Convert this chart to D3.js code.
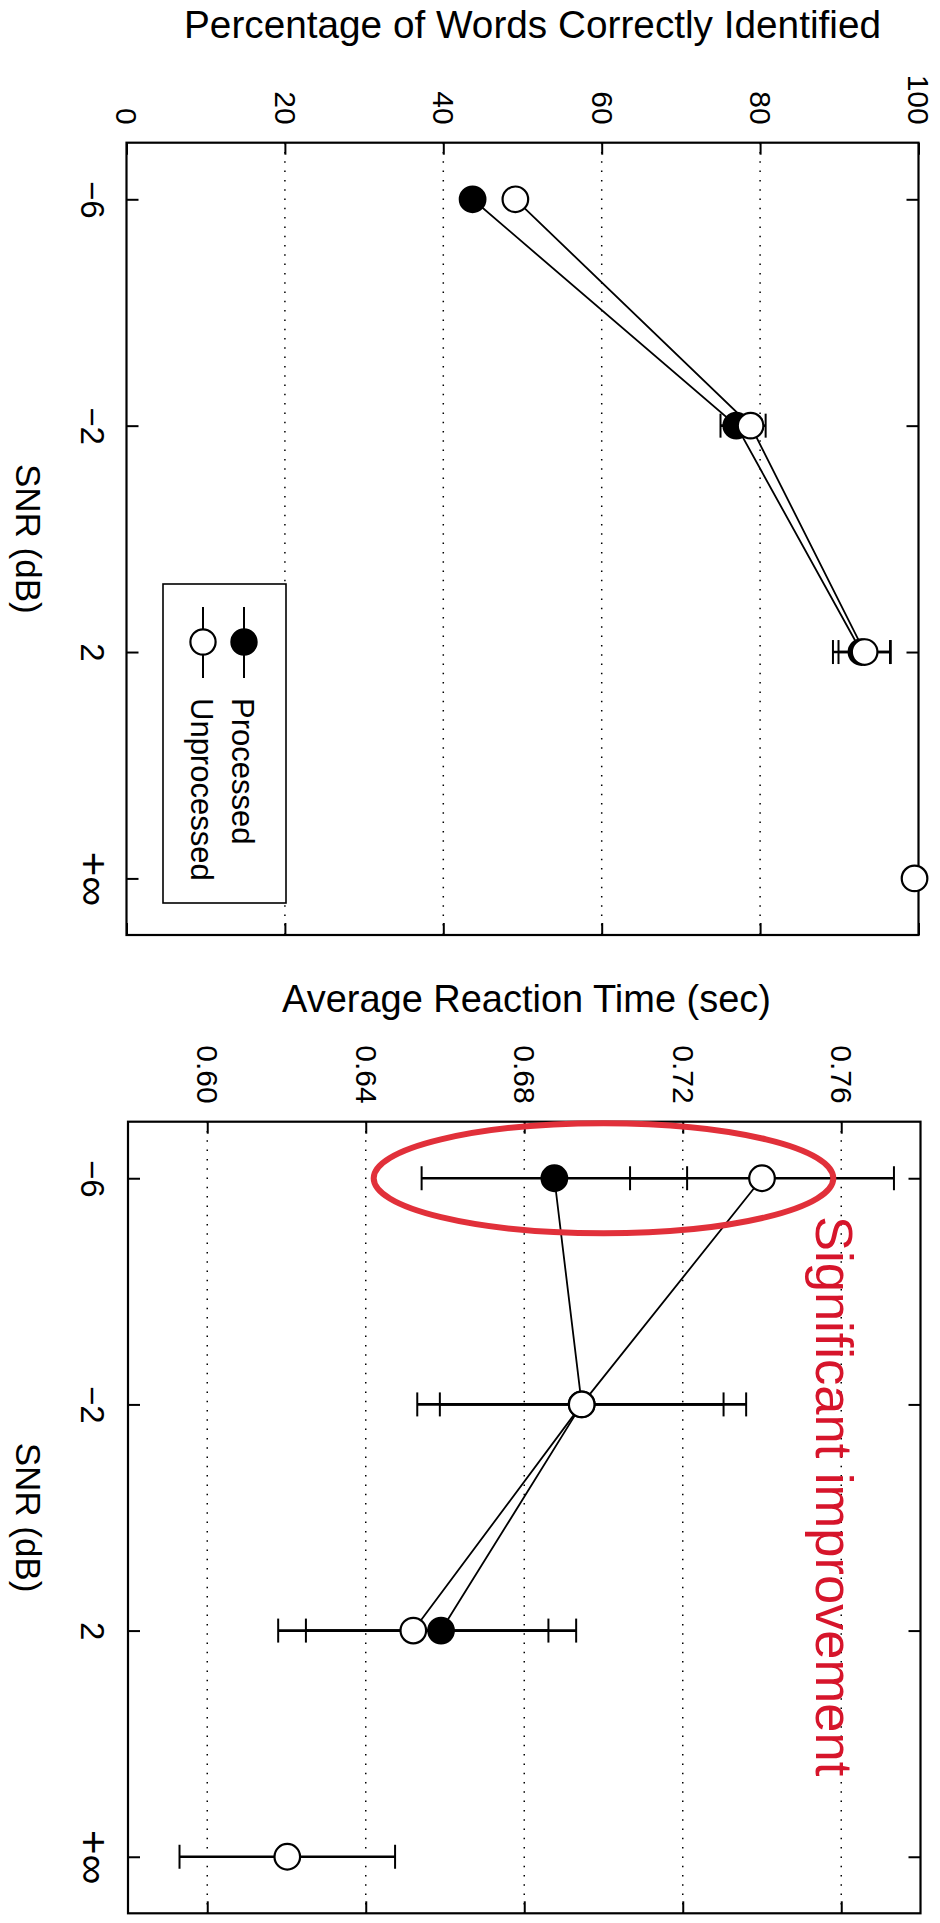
<!DOCTYPE html>
<html>
<head>
<meta charset="utf-8">
<script src="https://cdn.jsdelivr.net/npm/d3@7"></script>
<style>
  body { margin: 0; background: #fff; }
  svg { display: block; }
</style>
</head>
<body>
<svg id="chart" width="940" height="1923"></svg>
<script>
// SNR conditions (dB)
const snrLabels = ["−6", "−2", "2", "+∞"];

// Percentage of words correctly identified
const pctTicks = [0, 20, 40, 60, 80, 100];
const pctGrid = [20, 40, 60, 80];
const pctProcessed = [43.7, 77.0, 92.8, null];
const pctProcessedErr = [null, 2.0, 3.6, null];
const pctUnprocessed = [49.1, 78.8, 93.2, 99.5];
const pctUnprocessedErr = [null, 1.9, 3.3, null];

// Average reaction time (sec)
const rtTicks = [0.60, 0.64, 0.68, 0.72, 0.76];
const rtProcessed = [0.6876, 0.6945, 0.659, null];
const rtProcessedErr = [0.0335, 0.0415, 0.0341, null];
const rtUnprocessed = [0.7400, 0.6945, 0.652, 0.6202];
const rtUnprocessedErr = [0.0333, 0.0358, 0.0341, 0.0272];

const seriesNames = ["Processed", "Unprocessed"];
const seriesFill = ["#000", "#fff"];

// Highlighted region of the reaction-time panel at −6 dB
const highlightCenter = 0.700;
const highlightHalfWidth = 0.058;
const highlightText = "Significant improvement";

const FONT = "'Liberation Sans', Arial, Helvetica, sans-serif";
const svg = d3.select("#chart");
svg.append("rect").attr("width", 940).attr("height", 1923).attr("fill", "#fff");

function toPoints(vals, errs) {
  return snrLabels.map((s, i) => ({ snr: s, v: vals[i], e: errs[i] }));
}

function drawPanel(o) {
  const x = d3.scaleLinear().domain(o.domain).range([o.x0, o.x1]);
  const y = d3.scalePoint().domain(snrLabels).range([o.y0, o.y1]).padding(0.25);
  const g = svg.append("g");

  // dotted reference lines
  g.append("g").selectAll("line").data(o.grid).join("line")
    .attr("x1", d => x(d)).attr("x2", d => x(d))
    .attr("y1", o.y0).attr("y2", o.y1)
    .attr("stroke", "#000").attr("stroke-width", 1.5)
    .attr("stroke-dasharray", "1.5,7.8");

  const styleAxis = a => {
    a.select(".domain").remove();
    a.selectAll("line").attr("stroke", "#000").attr("stroke-width", 2);
  };

  // value axis (top, labelled) and its mirror (bottom)
  const top = g.append("g").attr("transform", `translate(0,${o.y0})`)
    .call(d3.axisTop(x).tickValues(o.ticks).tickFormat(o.fmt).tickSize(-12).tickSizeOuter(0));
  styleAxis(top);
  top.selectAll("text")
    .attr("x", 0).attr("y", 0).attr("dy", null)
    .attr("text-anchor", "end")
    .attr("fill", "#000")
    .style("font-family", FONT).style("font-size", "30px")
    .attr("transform", "translate(-10.7,-18) rotate(90)");

  const bottom = g.append("g").attr("transform", `translate(0,${o.y1})`)
    .call(d3.axisBottom(x).tickValues(o.ticks).tickFormat("").tickSize(-12).tickSizeOuter(0));
  styleAxis(bottom);

  // SNR axis (left, labelled) and its mirror (right)
  const left = g.append("g").attr("transform", `translate(${o.x0},0)`)
    .call(d3.axisLeft(y).tickSize(-12).tickSizeOuter(0));
  styleAxis(left);
  left.selectAll("text")
    .attr("x", 0).attr("y", 0).attr("dy", null)
    .attr("text-anchor", "middle")
    .attr("fill", "#000")
    .style("font-family", FONT)
    .style("font-size", d => d === "+∞" ? "42px" : "33px")
    .attr("transform", d => `translate(${(d === "+∞" ? 79 : 80.5) - o.x0},0) rotate(90)`);

  const right = g.append("g").attr("transform", `translate(${o.x1},0)`)
    .call(d3.axisRight(y).tickSize(-12).tickFormat("").tickSizeOuter(0));
  styleAxis(right);

  // frame
  g.append("rect")
    .attr("x", o.x0).attr("y", o.y0)
    .attr("width", o.x1 - o.x0).attr("height", o.y1 - o.y0)
    .attr("fill", "none").attr("stroke", "#000").attr("stroke-width", 2.2);

  // axis titles
  g.append("text")
    .attr("x", o.titleX).attr("y", o.titleY)
    .attr("text-anchor", "middle")
    .style("font-family", FONT).style("font-size", "38.5px")
    .attr("textLength", o.titleLen).attr("lengthAdjust", "spacingAndGlyphs")
    .text(o.title);

  g.append("text")
    .attr("text-anchor", "middle")
    .style("font-family", FONT).style("font-size", "35px")
    .attr("transform", `translate(16,${(o.y0 + o.y1) / 2}) rotate(90)`)
    .text("SNR (dB)");

  const series = o.series.map((s, k) => ({ name: seriesNames[k], fill: seriesFill[k], pts: toPoints(s.v, s.e) }));

  // connecting lines (noisy conditions only)
  const line = d3.line()
    .defined(d => d.v != null && d.snr !== "+∞")
    .x(d => x(d.v)).y(d => y(d.snr));
  series.forEach(s => {
    g.append("path").datum(s.pts)
      .attr("d", line)
      .attr("fill", "none").attr("stroke", "#000").attr("stroke-width", 1.8);
  });

  // error bars
  series.forEach(s => {
    const eb = g.append("g").selectAll("g")
      .data(s.pts.filter(d => d.v != null && d.e != null)).join("g");
    eb.append("line")
      .attr("x1", d => x(d.v - d.e)).attr("x2", d => x(d.v + d.e))
      .attr("y1", d => y(d.snr)).attr("y2", d => y(d.snr))
      .attr("stroke", "#000").attr("stroke-width", 2.6);
    [-1, 1].forEach(sgn => {
      eb.append("line")
        .attr("x1", d => x(d.v + sgn * d.e)).attr("x2", d => x(d.v + sgn * d.e))
        .attr("y1", d => y(d.snr) - 12).attr("y2", d => y(d.snr) + 12)
        .attr("stroke", "#000").attr("stroke-width", 2);
    });
  });

  // markers
  series.forEach(s => {
    g.append("g").selectAll("circle")
      .data(s.pts.filter(d => d.v != null)).join("circle")
      .attr("cx", d => x(d.v)).attr("cy", d => y(d.snr))
      .attr("r", 12.8)
      .attr("fill", s.fill).attr("stroke", "#000").attr("stroke-width", 2.2);
  });

  return { x, y, g };
}

// Panel 1: word identification
const p1 = drawPanel({
  domain: [0, 100], ticks: pctTicks, grid: pctGrid, fmt: d3.format("d"),
  x0: 126.5, x1: 918.5, y0: 142.7, y1: 935,
  title: "Percentage of Words Correctly Identified", titleX: 532.5, titleY: 38, titleLen: 697,
  series: [
    { v: pctProcessed, e: pctProcessedErr },
    { v: pctUnprocessed, e: pctUnprocessedErr }
  ]
});

// legend
const lg = p1.g.append("g");
lg.append("rect")
  .attr("x", 163).attr("y", 584).attr("width", 123).attr("height", 319)
  .attr("fill", "#fff").attr("stroke", "#000").attr("stroke-width", 1.6);
const legendCols = [244, 203];
seriesNames.forEach((name, k) => {
  const cx = legendCols[k];
  lg.append("line")
    .attr("x1", cx).attr("x2", cx).attr("y1", 607).attr("y2", 678)
    .attr("stroke", "#000").attr("stroke-width", 2);
  lg.append("circle")
    .attr("cx", cx).attr("cy", 642).attr("r", 12.6)
    .attr("fill", seriesFill[k]).attr("stroke", "#000").attr("stroke-width", 2.2);
  lg.append("text")
    .style("font-family", FONT).style("font-size", "31px")
    .attr("transform", `translate(${cx - 12},698) rotate(90)`)
    .text(name);
});

// Panel 2: reaction time
const p2 = drawPanel({
  domain: [0.58, 0.78], ticks: rtTicks, grid: rtTicks, fmt: d3.format(".2f"),
  x0: 128, x1: 920.5, y0: 1121.7, y1: 1913.3,
  title: "Average Reaction Time (sec)", titleX: 526.5, titleY: 1012, titleLen: 489,
  series: [
    { v: rtProcessed, e: rtProcessedErr },
    { v: rtUnprocessed, e: rtUnprocessedErr }
  ]
});

// highlight around the −6 dB reaction times
p2.g.append("ellipse")
  .attr("cx", p2.x(highlightCenter))
  .attr("cy", p2.y(snrLabels[0]))
  .attr("rx", p2.x(highlightCenter + highlightHalfWidth) - p2.x(highlightCenter))
  .attr("ry", 55)
  .attr("fill", "none").attr("stroke", "#e1303a").attr("stroke-width", 6);

p2.g.append("text")
  .style("font-family", FONT).style("font-size", "52.5px")
  .attr("fill", "#d6152b")
  .attr("transform", `translate(816,1216) rotate(90)`)
  .text(highlightText);
</script>
</body>
</html>
